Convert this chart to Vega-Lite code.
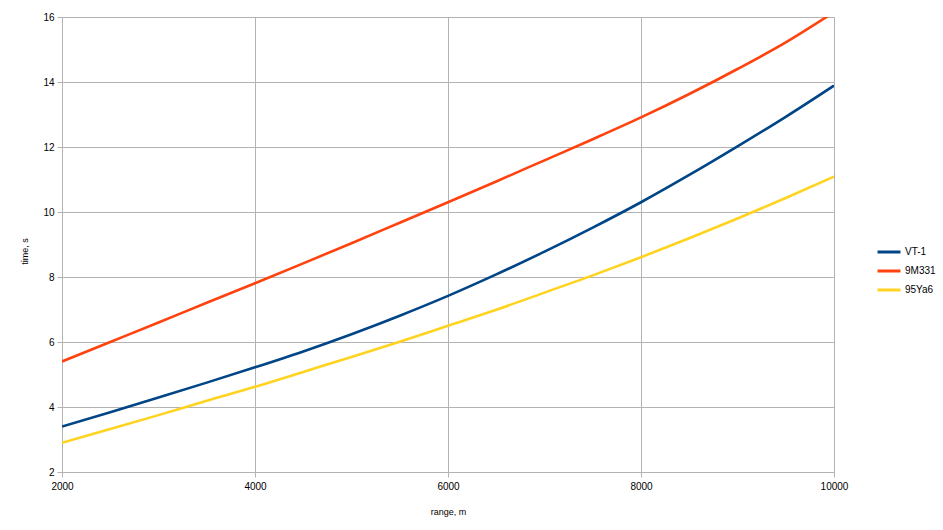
{
  "$schema": "https://vega.github.io/schema/vega-lite/v6.json",
  "autosize": {"type": "none"},
  "width": 772,
  "height": 455,
  "padding": {"left": 62, "top": 17, "right": 109, "bottom": 58},
  "background": "white",
  "config": {
    "view": {"stroke": "#b3b3b3", "strokeWidth": 1},
    "font": "Liberation Sans"
  },
  "data": {
    "values": [
      {"range": 2000, "time": 3.40, "series": "VT-1"},
      {"range": 2500, "time": 3.84, "series": "VT-1"},
      {"range": 3000, "time": 4.29, "series": "VT-1"},
      {"range": 3500, "time": 4.75, "series": "VT-1"},
      {"range": 4000, "time": 5.22, "series": "VT-1"},
      {"range": 4500, "time": 5.71, "series": "VT-1"},
      {"range": 5000, "time": 6.24, "series": "VT-1"},
      {"range": 5500, "time": 6.81, "series": "VT-1"},
      {"range": 6000, "time": 7.42, "series": "VT-1"},
      {"range": 6500, "time": 8.08, "series": "VT-1"},
      {"range": 7000, "time": 8.78, "series": "VT-1"},
      {"range": 7500, "time": 9.52, "series": "VT-1"},
      {"range": 8000, "time": 10.30, "series": "VT-1"},
      {"range": 8500, "time": 11.14, "series": "VT-1"},
      {"range": 9000, "time": 12.02, "series": "VT-1"},
      {"range": 9500, "time": 12.93, "series": "VT-1"},
      {"range": 10000, "time": 13.89, "series": "VT-1"},
      {"range": 2000, "time": 5.40, "series": "9M331"},
      {"range": 2500, "time": 6.00, "series": "9M331"},
      {"range": 3000, "time": 6.60, "series": "9M331"},
      {"range": 3500, "time": 7.21, "series": "9M331"},
      {"range": 4000, "time": 7.81, "series": "9M331"},
      {"range": 4500, "time": 8.42, "series": "9M331"},
      {"range": 5000, "time": 9.04, "series": "9M331"},
      {"range": 5500, "time": 9.67, "series": "9M331"},
      {"range": 6000, "time": 10.30, "series": "9M331"},
      {"range": 6500, "time": 10.94, "series": "9M331"},
      {"range": 7000, "time": 11.59, "series": "9M331"},
      {"range": 7500, "time": 12.24, "series": "9M331"},
      {"range": 8000, "time": 12.91, "series": "9M331"},
      {"range": 8500, "time": 13.63, "series": "9M331"},
      {"range": 9000, "time": 14.40, "series": "9M331"},
      {"range": 9500, "time": 15.22, "series": "9M331"},
      {"range": 10000, "time": 16.15, "series": "9M331"},
      {"range": 2000, "time": 2.90, "series": "95Ya6"},
      {"range": 2500, "time": 3.32, "series": "95Ya6"},
      {"range": 3000, "time": 3.75, "series": "95Ya6"},
      {"range": 3500, "time": 4.19, "series": "95Ya6"},
      {"range": 4000, "time": 4.62, "series": "95Ya6"},
      {"range": 4500, "time": 5.08, "series": "95Ya6"},
      {"range": 5000, "time": 5.54, "series": "95Ya6"},
      {"range": 5500, "time": 6.01, "series": "95Ya6"},
      {"range": 6000, "time": 6.50, "series": "95Ya6"},
      {"range": 6500, "time": 6.99, "series": "95Ya6"},
      {"range": 7000, "time": 7.52, "series": "95Ya6"},
      {"range": 7500, "time": 8.05, "series": "95Ya6"},
      {"range": 8000, "time": 8.61, "series": "95Ya6"},
      {"range": 8500, "time": 9.19, "series": "95Ya6"},
      {"range": 9000, "time": 9.80, "series": "95Ya6"},
      {"range": 9500, "time": 10.43, "series": "95Ya6"},
      {"range": 10000, "time": 11.09, "series": "95Ya6"}
    ]
  },
  "mark": {"type": "line", "interpolate": "monotone", "strokeWidth": 2.6, "clip": true},
  "encoding": {
    "x": {
      "field": "range", "type": "quantitative",
      "scale": {"domain": [2000, 10000], "nice": false, "zero": false},
      "axis": {
        "title": "range, m", "titleFont": "Liberation Sans", "titleFontSize": 9, "titleFontWeight": "normal", "titleColor": "#000",
        "titlePadding": 16,
        "values": [2000, 4000, 6000, 8000, 10000], "format": "d",
        "labelFlush": false, "labelOverlap": false,
        "labelFont": "Liberation Sans", "labelFontSize": 10, "labelColor": "#000", "labelPadding": 4,
        "grid": true, "gridColor": "#b3b3b3", "gridOpacity": 1,
        "domainColor": "#b3b3b3", "tickColor": "#b3b3b3", "tickSize": 5
      }
    },
    "y": {
      "field": "time", "type": "quantitative",
      "scale": {"domain": [2, 16], "nice": false, "zero": false},
      "axis": {
        "title": "time, s", "titleFont": "Liberation Sans", "titleFontSize": 9, "titleFontWeight": "normal", "titleColor": "#000",
        "titlePadding": 13, "titleY": 234,
        "values": [2, 4, 6, 8, 10, 12, 14, 16],
        "labelFlush": false, "labelOverlap": false,
        "labelFont": "Liberation Sans", "labelFontSize": 10, "labelColor": "#000", "labelPadding": 3,
        "grid": true, "gridColor": "#b3b3b3", "gridOpacity": 1,
        "domainColor": "#b3b3b3", "tickColor": "#b3b3b3", "tickSize": 5
      }
    },
    "color": {
      "field": "series", "type": "nominal",
      "scale": {"domain": ["VT-1", "9M331", "95Ya6"], "range": ["#004586", "#ff420e", "#ffd320"]},
      "legend": {
        "title": null, "orient": "none", "legendX": 814, "legendY": 222,
        "symbolType": "stroke", "symbolSize": 529, "symbolStrokeWidth": 3,
        "labelFont": "Liberation Sans", "labelFontSize": 10, "labelColor": "#000",
        "rowPadding": -8, "labelOffset": 3
      }
    }
  }
}
